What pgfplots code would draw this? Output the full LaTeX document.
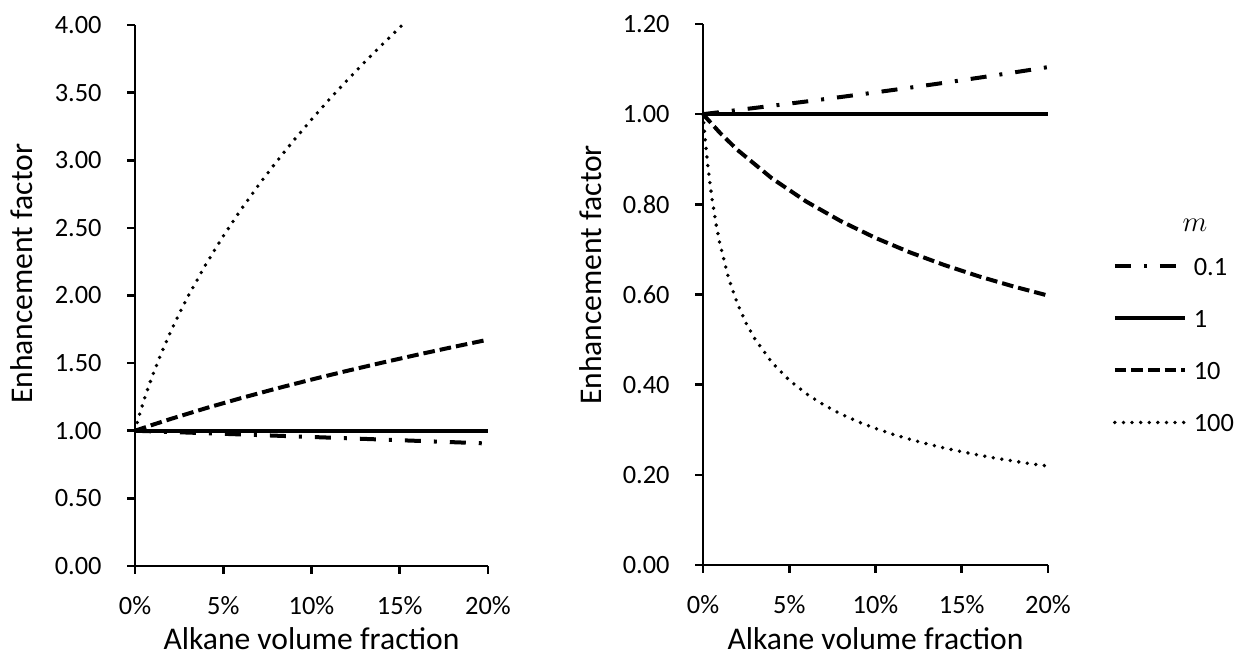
\documentclass[border=0pt]{standalone}
\usepackage{fontspec}
\setmainfont{Carlito}
\usepackage{pgfplots}
\pgfplotsset{compat=1.18}
\usepackage{pgfplotstable}

% Enhancement factor vs alkane volume fraction (left panel)
\pgfplotstableread{
x y
0 1
0.02 0.99096
0.04 0.98184
0.06 0.97263
0.08 0.96333
0.10 0.95394
0.12 0.94446
0.14 0.93488
0.16 0.92520
0.18 0.91542
0.20 0.90554
}\Lone
\pgfplotstableread{
x y
0 1
0.20 1
}\Ltwo
\pgfplotstableread{
x y
0 1
0.01 1.04403
0.02 1.08628
0.04 1.16619
0.06 1.24097
0.08 1.31149
0.10 1.37840
0.12 1.44222
0.14 1.50333
0.16 1.56205
0.18 1.61864
0.20 1.67332
}\Lthree
\pgfplotstableread{
x y
0 1
0.001 1.04833
0.0025 1.11692
0.005 1.22270
0.0075 1.32004
0.01 1.41067
0.015 1.57639
0.02 1.72627
0.025 1.86414
0.03 1.99249
0.04 2.22711
0.05 2.43926
0.06 2.63439
0.07 2.81603
0.08 2.98664
0.09 3.14802
0.10 3.30151
0.11 3.44819
0.12 3.58887
0.13 3.72424
0.14 3.85487
0.15 3.98121
0.1515 4.00000
}\Lfour

% right panel
\pgfplotstableread{
x y
0 1
0.02 1.00912
0.04 1.01850
0.06 1.02814
0.08 1.03807
0.10 1.04828
0.12 1.05881
0.14 1.06966
0.16 1.08085
0.18 1.09239
0.20 1.10432
}\Rone
\pgfplotstableread{
x y
0 1
0.20 1
}\Rtwo
\pgfplotstableread{
x y
0 1
0.01 0.95783
0.02 0.92057
0.04 0.85749
0.06 0.80582
0.08 0.76249
0.10 0.72548
0.12 0.69338
0.14 0.66519
0.16 0.64018
0.18 0.61780
0.20 0.59761
}\Rthree
\pgfplotstableread{
x y
0 1
0.001 0.95390
0.0025 0.89532
0.005 0.81786
0.0075 0.75755
0.01 0.70888
0.015 0.63436
0.02 0.57928
0.025 0.53644
0.03 0.50188
0.04 0.44901
0.05 0.40996
0.06 0.37960
0.07 0.35511
0.08 0.33482
0.09 0.31766
0.10 0.30289
0.11 0.29001
0.12 0.27864
0.13 0.26851
0.14 0.25941
0.15 0.25118
0.16 0.24368
0.17 0.23682
0.18 0.23051
0.19 0.22468
0.20 0.21926
}\Rfour

\tikzset{
  sdd/.style={line width=2pt, dash pattern=on 8pt off 6.5pt on 1.5pt off 6.5pt},
  ssol/.style={line width=2pt},
  sdash/.style={line width=2pt, dash pattern=on 5.8pt off 2.5pt},
  sdot/.style={line width=1.9pt, line cap=round, dash pattern=on 0pt off 4.3pt},
}

\newcommand\labfont{\fontsize{15.8}{19}\selectfont}

\pgfplotsset{
  myaxis/.style={
    scale only axis,
    axis x line=bottom, axis y line=left,
    axis line style={-, line width=1.3pt, black},
    tick style={line width=1.3pt, black},
    major tick length=4pt,
    tick align=outside,
    xmin=0, xmax=0.2, ymin=0,
    xtick={0,0.05,0.1,0.15,0.2},
    xticklabels={0\%,5\%,10\%,15\%,20\%},
    tick label style={font=\fontsize{13.2}{15.8}\selectfont},
    /pgf/number format/.cd, fixed, fixed zerofill, precision=2, assume math mode=true,
    /pgfplots/.cd,
    yticklabel style={anchor=east, inner sep=0pt, xshift=-12.5pt},
    xticklabel style={anchor=north, inner sep=0pt, yshift=-11pt},
    clip=false,
    every axis plot/.append style={black},
  }
}

\begin{document}
\begin{tikzpicture}
\useasboundingbox (0,0) rectangle (619pt,328.5pt);
\begin{axis}[myaxis,
  at={(67.5pt,45.5pt)}, anchor=origin,
  width=176.5pt, height=270.5pt,
  ymax=4,
  ytick={0,0.5,1,1.5,2,2.5,3,3.5,4},
  xlabel={Alkane volume fraction},
  ylabel={Enhancement factor},
  every axis x label/.style={at={(axis description cs:0.5,-0.135)}, anchor=center, font=\labfont},
  every axis y label/.style={at={(axis description cs:-0.320,0.54)}, rotate=90, anchor=center, font=\labfont},
]
\addplot[sdd] table {\Lone};
\addplot[ssol] table {\Ltwo};
\addplot[sdash] table {\Lthree};
\addplot[sdot] table {\Lfour};
\end{axis}

\begin{axis}[myaxis,
  at={(351.5pt,46pt)}, anchor=origin,
  width=172.5pt, height=270.5pt,
  ymax=1.2,
  ytick={0,0.2,0.4,0.6,0.8,1.0,1.2},
  xlabel={Alkane volume fraction},
  ylabel={Enhancement factor},
  every axis x label/.style={at={(axis description cs:0.5,-0.137)}, anchor=center, font=\labfont},
  every axis y label/.style={at={(axis description cs:-0.325,0.536)}, rotate=90, anchor=center, font=\labfont},
  legend cell align=left,
  legend image code/.code={\draw[#1] (0pt,0pt) -- (35pt,0pt);},
  legend style={at={(axis description cs:1.188,0.4076)}, anchor=west,
    draw=none, fill=none, inner sep=0pt, outer sep=0pt,
    row sep=15pt, column sep=2.5pt,
    font=\fontsize{13.2}{15.8}\selectfont,
    nodes={inner sep=1pt, text height=9pt, text depth=0pt}},
]
\addplot[sdd] table {\Rone};
\addlegendentry{0.1}
\addplot[ssol] table {\Rtwo};
\addlegendentry{1}
\addplot[sdash] table {\Rthree};
\addlegendentry{10}
\addplot[sdot] table {\Rfour};
\addlegendentry{100}
\node[font=\fontsize{15}{18}\selectfont] at (axis description cs:1.426,0.627) {$m$};
\end{axis}
\end{tikzpicture}
\end{document}
